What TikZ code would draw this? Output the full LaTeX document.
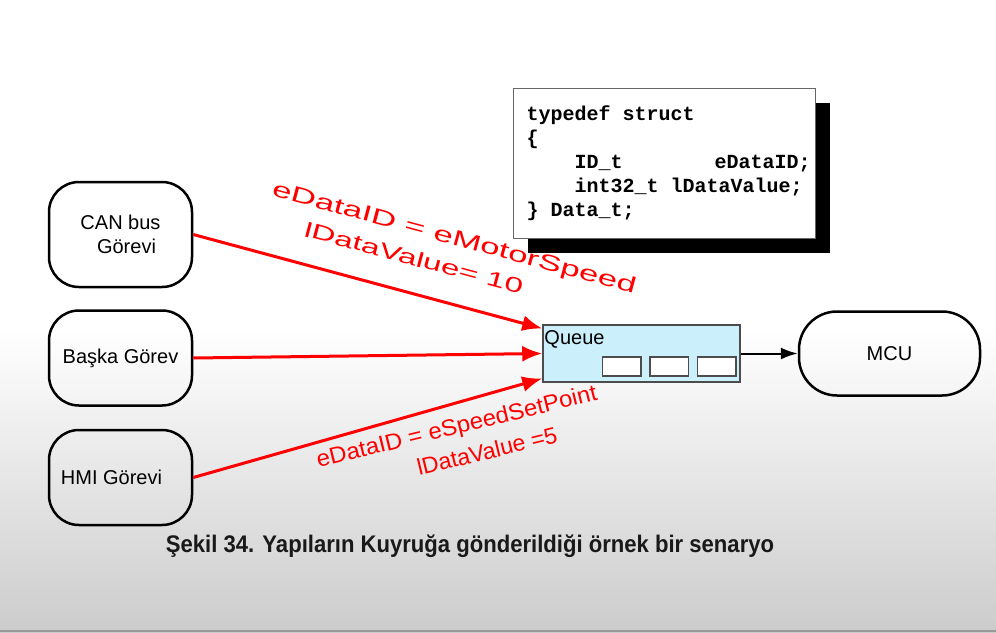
\documentclass[tikz,border=0pt]{standalone}
\usepackage{fontspec}
\setmainfont{Liberation Sans}
\setmonofont{Liberation Mono}
\usepackage{graphicx}
\usetikzlibrary{arrows.meta, positioning, shadows}

\begin{document}
\begin{tikzpicture}[
    x=1pt, y=-1pt,
    node distance=21pt,
    task/.style={rectangle, draw, line width=2.5pt, rounded corners=30pt, minimum width=143pt, minimum height=95pt, align=center, font=\fontsize{20}{24}\selectfont},
    queuebox/.style={rectangle, draw=black!70, line width=1.5pt, fill=cyan!20, minimum width=197pt, minimum height=57pt},
    slot/.style={rectangle, draw=black!70, line width=1.5pt, fill=white, minimum width=38.5pt, minimum height=19pt, inner sep=0pt},
    codebox/.style={rectangle, draw=black!60, line width=1pt, fill=white, minimum width=302pt, minimum height=150pt, drop shadow={shadow xshift=15pt, shadow yshift=-15pt, fill=black, opacity=1}},
    codetext/.style={align=left, inner sep=0pt, font=\ttfamily\bfseries\fontsize{20}{24}\selectfont},
    lbl/.style={text=red, inner sep=0pt},
    line/.style={draw, line width=2pt, -{Latex[length=17pt, width=12pt]}},
    redline/.style={draw, red, line width=3pt, -{Latex[length=20pt, width=16pt]}}
]
    % background
    \fill[white] (0,0) rectangle (996,330);
    \shade[top color=white, bottom color=black!20] (0,330) rectangle (996,632);
    \fill[black!40] (0,630) rectangle (996,632);
    \useasboundingbox (0,0) rectangle (996,632);

    % tasks
    \node [task, minimum height=105pt] (can) at (120.5,234.5) {CAN bus\\\hspace*{12pt}Görevi};
    \node [task, below=of can] (baska) {Başka Görev};
    \node [task, below=22pt of baska] (hmi) {HMI Görevi\hspace*{18pt}};

    % queue
    \node [queuebox] (queue) at (641.5,353.5) {};
    \node [anchor=north west, inner sep=0pt, font=\fontsize{20}{24}\selectfont] (qname) at ([shift={(2pt,-6pt)}]queue.north west) {Queue};
    \foreach \i in {1,2,3}
        \node [slot] (slot\i) at (574+47.5*\i,366.5) {};

    \node [task, minimum width=181pt, minimum height=84pt, rounded corners=38pt, right=57pt of queue] (mcu) {MCU};

    % struct
    \node [codebox] (code) at (664,163) {};
    \node [codetext, anchor=west] (codetxt) at ([xshift=14pt]code.west) {typedef struct\\
\{\\
\hspace*{48pt}ID\_t\hspace*{92pt}eDataID;\\
\hspace*{48pt}int32\_t lDataValue;\\
\} Data\_t;};

    % messages
    \path [redline] (can.east) -- ([yshift=25pt]queue.west);
    \path [redline] (baska.east) -- (queue.west);
    \path [redline] (hmi.east) -- ([yshift=-25pt]queue.west);
    \path [line] (queue) -- (mcu);

    \node [lbl, rotate=-15, font=\fontsize{22}{26}\selectfont] (canid) at (454,239) {\scalebox{1.58}[1]{eDataID = eMotorSpeed}};
    \node [lbl, rotate=-15, font=\fontsize{21}{25}\selectfont] (canval) at (414,258) {\scalebox{1.58}[1]{lDataValue= 10}};
    \node [lbl, rotate=13.7, font=\fontsize{23}{27}\selectfont] (hmiid) at (457,428) {\scalebox{1.04}[1]{eDataID = eSpeedSetPoint}};
    \node [lbl, rotate=13.7, font=\fontsize{23}{27}\selectfont] (hmival) at (487,451) {lDataValue =5};

    % caption
    \node [font=\bfseries\fontsize{24}{28}\selectfont, text=black!90] (caption) at (470,546) {\scalebox{0.92}[1]{Şekil 34. Yapıların Kuyruğa gönderildiği örnek bir senaryo}};
\end{tikzpicture}
\end{document}
